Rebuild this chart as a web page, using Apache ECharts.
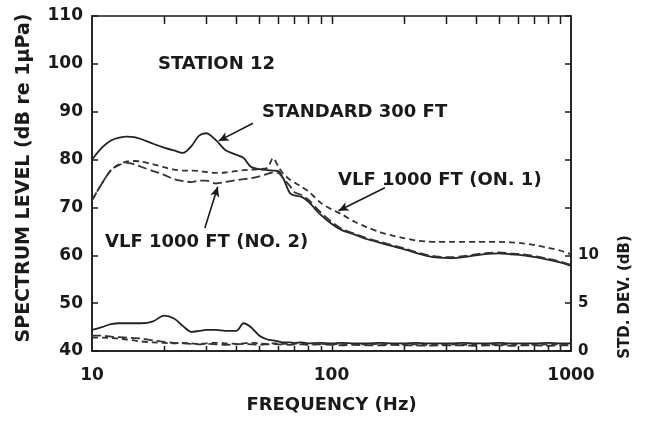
<!DOCTYPE html>
<html><head><meta charset="utf-8">
<script src="https://cdn.jsdelivr.net/npm/echarts@6/dist/echarts.min.js"></script>
<style>html,body{margin:0;padding:0;background:#fff}#c{width:649px;height:423px}</style>
</head><body><div id="c"></div>
<script>
// Frequencies (Hz)
const freq = [10, 11, 12, 13, 14, 15, 16, 18, 20, 22, 24, 26, 28, 30, 33, 36, 40, 43, 46, 50, 54, 57, 60, 63, 67, 70, 75, 80, 90, 100, 110, 125, 140, 160, 180, 200, 225, 250, 280, 315, 355, 400, 450, 500, 560, 630, 710, 800, 900, 1000];
// Spectrum level (dB re 1 uPa)
const standard300 = [80.0, 82.5, 84.0, 84.6, 84.8, 84.7, 84.3, 83.3, 82.5, 81.9, 81.4, 82.8, 85.0, 85.5, 84.0, 82.0, 81.0, 80.3, 78.5, 78.0, 77.8, 77.7, 77.6, 76.0, 73.0, 72.5, 72.2, 71.2, 68.5, 66.6, 65.3, 64.3, 63.4, 62.6, 61.9, 61.3, 60.5, 59.9, 59.5, 59.4, 59.6, 60.0, 60.3, 60.4, 60.2, 60.0, 59.6, 59.1, 58.5, 57.8];
const vlfOn1 = [71.5, 75.0, 77.8, 79.0, 79.6, 79.7, 79.6, 79.0, 78.4, 77.9, 77.7, 77.7, 77.6, 77.4, 77.2, 77.3, 77.6, 77.8, 77.9, 78.0, 78.3, 80.3, 78.5, 77.0, 75.8, 75.2, 74.3, 73.4, 71.0, 69.6, 68.6, 67.0, 65.9, 64.8, 64.1, 63.6, 63.1, 62.9, 62.8, 62.8, 62.8, 62.8, 62.8, 62.8, 62.7, 62.5, 62.1, 61.6, 61.0, 60.2];
const vlfNo2 = [71.5, 75.0, 77.8, 78.9, 79.3, 79.0, 78.5, 77.6, 76.8, 75.9, 75.5, 75.3, 75.6, 75.6, 75.0, 75.3, 75.7, 75.9, 76.1, 76.5, 77.0, 77.3, 77.2, 76.0, 74.5, 73.2, 72.6, 71.6, 69.0, 67.0, 65.6, 64.5, 63.6, 62.8, 62.1, 61.5, 60.7, 60.1, 59.7, 59.6, 59.8, 60.2, 60.5, 60.6, 60.4, 60.2, 59.8, 59.3, 58.7, 58.0];
// Standard deviation (dB)
const sdStandard = [2.2, 2.5, 2.8, 2.9, 2.9, 2.9, 2.9, 3.1, 3.7, 3.4, 2.6, 2.0, 2.1, 2.2, 2.2, 2.1, 2.1, 2.9, 2.5, 1.6, 1.2, 1.1, 1.0, 0.9, 0.9, 0.85, 0.9, 0.8, 0.85, 0.8, 0.85, 0.8, 0.8, 0.85, 0.8, 0.8, 0.85, 0.8, 0.8, 0.8, 0.85, 0.8, 0.8, 0.85, 0.8, 0.8, 0.8, 0.85, 0.8, 0.8];
const sdOn1 = [1.4, 1.4, 1.35, 1.3, 1.2, 1.1, 1.0, 0.9, 0.85, 0.8, 0.85, 0.8, 0.75, 0.8, 0.85, 0.8, 0.75, 0.8, 0.85, 0.8, 0.75, 0.8, 0.8, 0.75, 0.8, 0.8, 0.75, 0.8, 0.75, 0.7, 0.75, 0.7, 0.7, 0.75, 0.7, 0.7, 0.7, 0.65, 0.7, 0.7, 0.65, 0.7, 0.7, 0.65, 0.7, 0.7, 0.65, 0.7, 0.7, 0.7];
const sdNo2 = [1.6, 1.6, 1.5, 1.45, 1.4, 1.35, 1.3, 1.1, 0.95, 0.85, 0.8, 0.75, 0.7, 0.75, 0.7, 0.65, 0.7, 0.75, 0.7, 0.65, 0.7, 0.75, 0.7, 0.7, 0.65, 0.7, 0.7, 0.65, 0.7, 0.65, 0.6, 0.65, 0.6, 0.6, 0.65, 0.6, 0.6, 0.55, 0.6, 0.6, 0.6, 0.55, 0.6, 0.6, 0.55, 0.6, 0.6, 0.55, 0.6, 0.6];
// Axis tick labels
const xTickLabels = [10, 100, 1000];
const sdTickLabels = [0, 5, 10];
const minorTickFreqs = [20, 30, 40, 50, 60, 70, 80, 90, 100, 200, 300, 400, 500, 600, 700, 800, 900];

const FONT = '"DejaVu Sans", sans-serif';
const INK = '#1a1a1a';
const GRID = {left: 92, right: 78, top: 16, bottom: 72};
const W = 649, H = 423;
const pairs = (ys) => freq.map((f, i) => [f, ys[i]]);

const chart = echarts.init(document.getElementById('c'), null, {renderer: 'canvas'});

function lineSeries(name, ys, yAxisIndex, dash, extra) {
  return Object.assign({
    name, type: 'line', data: pairs(ys), yAxisIndex,
    symbol: 'none', smooth: 0.3, animation: false, silent: true,
    lineStyle: {color: dash ? '#333' : '#222', width: 1.8, type: dash || 'solid'}
  }, extra || {});
}

function arrow(from, to) {
  return [{coord: from, symbol: 'none'}, {coord: to, symbol: 'arrow'}];
}

const arrowStyle = {
  silent: true, animation: false, symbolSize: [7, 10], precision: 4,
  lineStyle: {color: INK, width: 1.6, type: 'solid'},
  label: {show: false}, emphasis: {disabled: true}
};

const baseGraphic = [
  {id: 't1', type: 'text', x: 158, y: 64, silent: true, style: {text: 'STATION 12', font: 'bold 18px ' + FONT, fill: INK, align: 'left', verticalAlign: 'middle'}},
  {id: 't2', type: 'text', x: 262, y: 112, silent: true, style: {text: 'STANDARD 300 FT', font: 'bold 18px ' + FONT, fill: INK, align: 'left', verticalAlign: 'middle'}},
  {id: 't3', type: 'text', x: 338, y: 180, silent: true, style: {text: 'VLF 1000 FT (ON. 1)', font: 'bold 18px ' + FONT, fill: INK, align: 'left', verticalAlign: 'middle'}},
  {id: 't4', type: 'text', x: 105, y: 242, silent: true, style: {text: 'VLF 1000 FT (NO. 2)', font: 'bold 18px ' + FONT, fill: INK, align: 'left', verticalAlign: 'middle'}},
  {id: 't5', type: 'text', x: 24, y: 178, rotation: Math.PI / 2, silent: true, style: {text: 'SPECTRUM LEVEL (dB re 1μPa)', font: 'bold 19px ' + FONT, fill: INK, align: 'center', verticalAlign: 'middle'}},
  {id: 't6', type: 'text', x: 625, y: 297, rotation: Math.PI / 2, silent: true, style: {text: 'STD. DEV. (dB)', font: 'bold 15px ' + FONT, fill: INK, align: 'center', verticalAlign: 'middle'}}
];

chart.setOption({
  backgroundColor: '#fff',
  animation: false,
  grid: Object.assign({show: true, borderColor: INK, borderWidth: 1.5, backgroundColor: 'transparent'}, GRID),
  xAxis: {
    type: 'log', logBase: 10, min: 10, max: 1000,
    axisLine: {show: true, lineStyle: {color: INK, width: 1.5}},
    axisTick: {show: false},
    splitLine: {show: false},
    minorTick: {show: false},
    axisLabel: {
      color: INK, fontFamily: FONT, fontWeight: 'bold', fontSize: 17, margin: 16,
      formatter: (v) => xTickLabels.includes(Math.round(v)) ? String(Math.round(v)) : ''
    },
    name: 'FREQUENCY (Hz)', nameLocation: 'middle', nameGap: 45,
    nameTextStyle: {color: INK, fontFamily: FONT, fontWeight: 'bold', fontSize: 18}
  },
  yAxis: [{
    type: 'value', min: 40, max: 110, interval: 10,
    axisLine: {show: true, lineStyle: {color: INK, width: 1.5}},
    axisTick: {show: true, inside: true, length: 6, lineStyle: {color: INK, width: 1.5}},
    splitLine: {show: false},
    axisLabel: {color: INK, fontFamily: FONT, fontWeight: 'bold', fontSize: 17, margin: 9}
  }, {
    type: 'value', min: 0, max: 35, interval: 5, position: 'right',
    axisLine: {show: true, lineStyle: {color: INK, width: 1.5}},
    axisTick: {show: true, inside: true, length: 6, lineStyle: {color: INK, width: 1.5}},
    splitLine: {show: false},
    axisLabel: {
      color: INK, fontFamily: FONT, fontWeight: 'bold', fontSize: 15, margin: 7,
      formatter: (v) => sdTickLabels.includes(v) ? String(v) : ''
    }
  }],
  series: [
    lineSeries('STANDARD 300 FT', standard300, 0, null, {
      markLine: Object.assign({data: [arrow([47, 87.6], [33.8, 83.9])]}, arrowStyle)
    }),
    lineSeries('VLF 1000 FT (ON. 1)', vlfOn1, 0, [6, 4], {
      markLine: Object.assign({data: [arrow([167, 74.1], [107, 69.3])]}, arrowStyle)
    }),
    lineSeries('VLF 1000 FT (NO. 2)', vlfNo2, 0, [9, 4], {
      markLine: Object.assign({data: [arrow([29.6, 65.7], [33.5, 74.3])]}, arrowStyle)
    }),
    lineSeries('SD STANDARD', sdStandard, 1, null),
    lineSeries('SD ON. 1', sdOn1, 1, [6, 4]),
    lineSeries('SD NO. 2', sdNo2, 1, [9, 4])
  ],
  graphic: baseGraphic
});

// Minor frequency ticks on the top and bottom frame edges.
// x position comes from the chart's own log axis; falls back to the same log mapping of the grid.
const plotW = W - GRID.left - GRID.right;
const yTop = GRID.top, yBot = H - GRID.bottom;
function xPix(f) {
  let p = NaN;
  try {
    const r = chart.convertToPixel({xAxisIndex: 0}, f);
    p = Array.isArray(r) ? r[0] : r;
  } catch (e) { p = NaN; }
  if (typeof p !== 'number' || !isFinite(p)) {
    p = GRID.left + Math.log10(f / 10) / 2 * plotW;
  }
  return p;
}
const tickGraphics = [];
minorTickFreqs.forEach((f, i) => {
  const x = Math.round(xPix(f)) + 0.5;
  tickGraphics.push({id: 'tt' + i, type: 'rect', silent: true, z: 100,
    shape: {x: x - 0.75, y: yTop, width: 1.5, height: 8}, style: {fill: INK}});
  tickGraphics.push({id: 'tb' + i, type: 'rect', silent: true, z: 100,
    shape: {x: x - 0.75, y: yBot - 5, width: 1.5, height: 5}, style: {fill: INK}});
});
chart.setOption({graphic: baseGraphic.concat(tickGraphics)});
</script>
</body></html>
